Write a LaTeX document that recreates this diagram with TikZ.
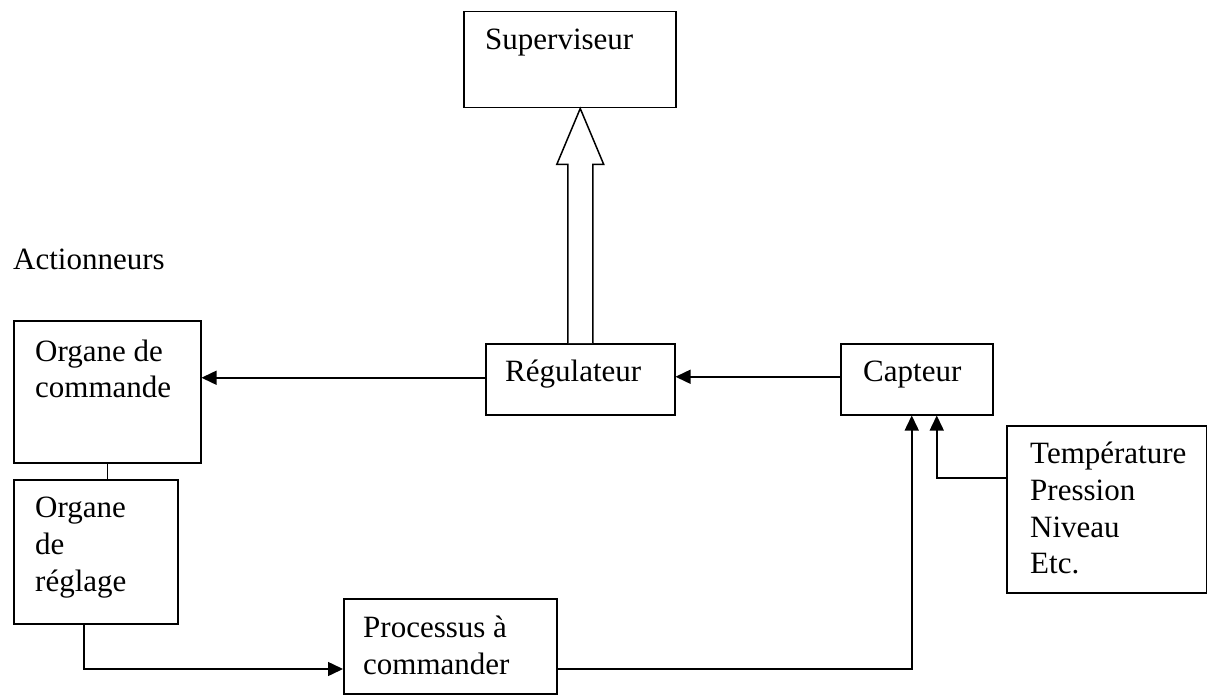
\documentclass[tikz,border=0pt]{standalone}
\usepackage{fontspec}
\setmainfont{Liberation Serif}
\usetikzlibrary{arrows.meta,calc}
\newcommand\fsz{\fontsize{31}{37}\selectfont}
\begin{document}
\begin{tikzpicture}[x=1pt,y=-1pt,
  box/.style={draw, line width=1.5pt, inner sep=0pt, anchor=north west},
  txt/.style={anchor=base west, inner sep=0pt, font=\fsz},
  wire/.style={line width=1.5pt},
  arr/.style={line width=1.5pt, -{Triangle[length=15pt,width=14pt]}}]
\useasboundingbox[fill=white] (0,0) rectangle (1207,695);

% boxes
\node[box, minimum width=212pt, minimum height=96pt]  (sup)  at (463,11)  {};
\node[box, minimum width=189pt, minimum height=71pt]  (reg)  at (485,343) {};
\node[box, minimum width=152pt, minimum height=71pt]  (cap)  at (840,343) {};
\node[box, minimum width=187pt, minimum height=142pt] (oc)   at (13,320)  {};
\node[box, minimum width=164pt, minimum height=144pt] (org)  at (13,479)  {};
\node[box, minimum width=213pt, minimum height=95pt]  (proc) at (343,598) {};
\node[box, minimum width=200pt, minimum height=167pt] (temp) at (1006,425) {};

% texts
\node[txt] (tsup)  at (485,50)  {Superviseur};
\node[txt] (tact)  at (13,269)  {Actionneurs};
\node[txt] (treg)  at (505,381) {Régulateur};
\node[txt] (tcap)  at (863,381) {Capteur};
\node[txt] (toc1)  at (35,361)  {Organe de};
\node[txt] (toc2)  at (35,397)  {commande};
\node[txt] (tor1)  at (35,517)  {Organe};
\node[txt] (tor2)  at (35,554)  {de};
\node[txt] (tor3)  at (35,591)  {réglage};
\node[txt] (tpr1)  at (363,637) {Processus à};
\node[txt] (tpr2)  at (363,674) {commander};
\node[txt] (tte1)  at (1030,463) {Température};
\node[txt] (tte2)  at (1030,500) {Pression};
\node[txt] (tte3)  at (1030,537) {Niveau};
\node[txt] (tte4)  at (1030,573) {Etc.};

% hollow arrow Régulateur -> Superviseur
\draw[line width=1.5pt, fill=white] let \p1=(reg.north), \p2=(sup.south) in
  (\x1-12.5pt,\y1) -- (\x1-12.5pt,\y2-56pt) -- (\x1-23.5pt,\y2-56pt) --
  (\x1,\y2) -- (\x1+23.5pt,\y2-56pt) -- (\x1+12.5pt,\y2-56pt) -- (\x1+12.5pt,\y1);

% connectors
\coordinate (a1) at ([yshift=1.5pt]reg.west);
\draw[arr] (a1) -- (a1 -| oc.east);
\coordinate (a2) at ([yshift=2.5pt]cap.west);
\draw[arr] (a2) -- (a2 -| reg.east);
\draw[wire] (oc.south) -- (oc.south |- org.north);
\coordinate (low) at (0,669);
\draw[arr] ([xshift=-12pt]org.south) |- (proc.west |- low);
\draw[arr] (proc.east |- low) -| ([xshift=-5pt]cap.south);
\coordinate (tin) at (0,478);
\draw[arr] (temp.west |- tin) -| ([xshift=20pt]cap.south);
\end{tikzpicture}
\end{document}
